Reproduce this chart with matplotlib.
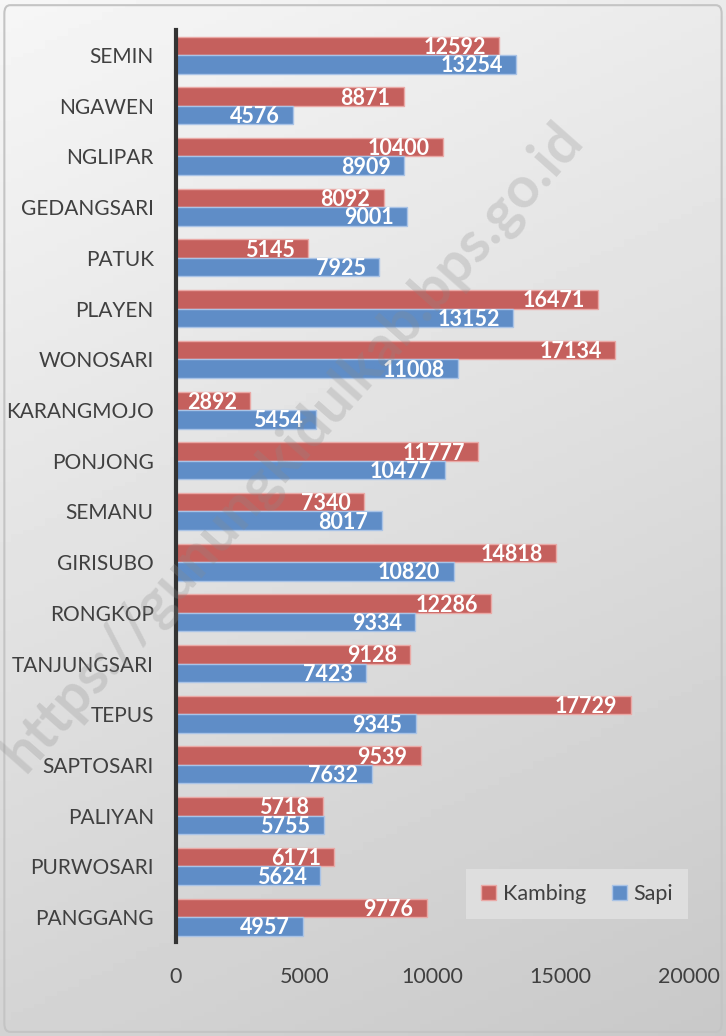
import matplotlib
matplotlib.use('Agg')
import matplotlib.pyplot as plt
import numpy as np
from matplotlib.patches import FancyBboxPatch

kecamatan = ['SEMIN', 'NGAWEN', 'NGLIPAR', 'GEDANGSARI', 'PATUK', 'PLAYEN', 'WONOSARI',
             'KARANGMOJO', 'PONJONG', 'SEMANU', 'GIRISUBO', 'RONGKOP', 'TANJUNGSARI',
             'TEPUS', 'SAPTOSARI', 'PALIYAN', 'PURWOSARI', 'PANGGANG']
kambing = [12592, 8871, 10400, 8092, 5145, 16471, 17134, 2892, 11777, 7340,
           14818, 12286, 9128, 17729, 9539, 5718, 6171, 9776]
sapi = [13254, 4576, 8909, 9001, 7925, 13152, 11008, 5454, 10477, 8017,
        10820, 9334, 7423, 9345, 7632, 5755, 5624, 4957]
xticks = [0, 5000, 10000, 15000, 20000]

plt.rcParams['font.family'] = ['Lato', 'DejaVu Sans']

fig = plt.figure(figsize=(7.26, 10.36), dpi=100)

# latar belakang gradasi
bg = fig.add_axes([0, 0, 1, 1], zorder=-10)
grad = np.linspace(0, 1, 256).reshape(-1, 1)
gx = np.linspace(0, 1, 64).reshape(1, -1)
img = 0.965 - 0.18 * (0.75 * grad + 0.25 * gx)
bg.imshow(img, cmap='gray', vmin=0, vmax=1, aspect='auto', extent=[0, 1, 0, 1], origin='upper')
bg.set_xlim(0, 1)
bg.set_ylim(0, 1)
bg.axis('off')
bg.add_patch(FancyBboxPatch((0.006, 0.004), 0.988, 0.991, boxstyle='round,pad=0,rounding_size=0.008',
                            fill=False, ec='#c4c4c4', lw=1.5, transform=bg.transAxes))

ax = fig.add_axes([0.2424, 0.0903, 0.7066, 0.881])
ax.patch.set_alpha(0)
y = np.arange(len(kecamatan))
h = 0.365
b1 = ax.barh(y - h / 2, kambing, height=h, color='#c5605d', edgecolor='#eaa9a6', lw=1.0, label='Kambing')
b2 = ax.barh(y + h / 2, sapi, height=h, color='#5f8dc7', edgecolor='#a9c3e6', lw=1.0, label='Sapi')

for bars, vals in [(b1, kambing), (b2, sapi)]:
    for bar, v in zip(bars, vals):
        ax.text(v - 520, bar.get_y() + bar.get_height() / 2 + 0.03, str(v), ha='right', va='center',
                color='white', fontsize=15.5, fontweight='bold')

ax.set_xlim(0, 20000)
ax.set_ylim(len(kecamatan) - 0.5, -0.5)
ax.set_yticks(y)
ax.set_yticklabels(kecamatan, fontsize=15, color='#404040')
ax.set_xticks(xticks)
ax.set_xticklabels([str(t) for t in xticks], fontsize=15.5, color='#404040')
ax.tick_params(axis='y', length=0, pad=16)
ax.tick_params(axis='x', length=0, pad=18)
for s in ['top', 'right', 'bottom']:
    ax.spines[s].set_visible(False)
ax.spines['left'].set_linewidth(3)
ax.spines['left'].set_color('#333333')

leg = ax.legend(loc='lower right', bbox_to_anchor=(0.998, 0.026), borderaxespad=0, ncol=2,
                fontsize=15.5, frameon=True, fancybox=False, handlelength=0.7, handleheight=0.7,
                handletextpad=0.3, columnspacing=1.2, borderpad=0.7)
leg.get_frame().set_facecolor('#dedede')
leg.get_frame().set_edgecolor('none')
leg.get_frame().set_alpha(1)
for t in leg.get_texts():
    t.set_color('#404040')

# watermark
fig.text(0.403, 0.569, 'https://gunungkidulkab.bps.go.id', rotation=48.5, fontsize=41,
         fontweight='bold', color='#8a8a8a', alpha=0.26, ha='center', va='center', zorder=20)

fig.savefig('out.png', dpi=100)
